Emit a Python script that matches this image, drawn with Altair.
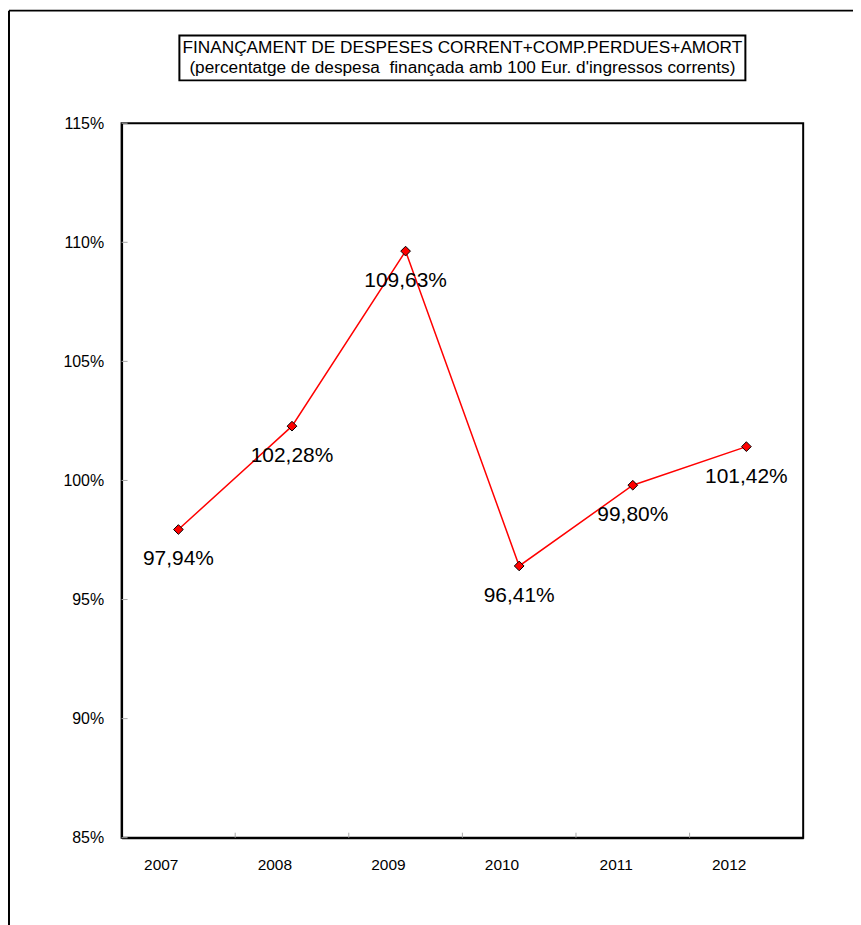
import altair as alt
import pandas as pd

years = ["2007", "2008", "2009", "2010", "2011", "2012"]
values = [97.94, 102.28, 109.63, 96.41, 99.80, 101.42]
y_ticks = [85, 90, 95, 100, 105, 110, 115]
title_lines = ["FINANÇAMENT DE DESPESES CORRENT+COMP.PERDUES+AMORT",
               "(percentatge de despesa\u00a0 finançada amb 100 Eur. d'ingressos corrents)"]

df = pd.DataFrame({
    "year": years,
    "value": values,
    "label": [f"{v:.2f}".replace(".", ",") + "%" for v in values],
})
tick_df = pd.DataFrame({"t": y_ticks})
title_df = pd.DataFrame({"line": title_lines, "row": [0, 1]})
one = pd.DataFrame({"a": [1]})

W, H = 684, 717
FONT = "Liberation Sans"

xscale = alt.Scale(type="band", paddingInner=0, paddingOuter=0, domain=years)
yscale = alt.Scale(domain=[85, 115], nice=False, zero=False)

xenc = alt.X("year:N", scale=xscale, bandPosition=0.5,
             axis=alt.Axis(title=None, labelFont=FONT, labelFontSize=15.5, labelColor="black",
                           ticks=False, domain=True, domainColor="black", domainWidth=2,
                           labelPadding=27, labelAngle=0))
yenc = alt.Y("value:Q", scale=yscale,
             axis=alt.Axis(title=None, values=y_ticks, labelExpr="datum.value + '%'",
                           labelFont=FONT, labelFontSize=16, labelColor="black",
                           ticks=False, grid=False, domain=True, domainColor="black",
                           domainWidth=2, labelPadding=18))

line = alt.Chart(df).mark_line(color="#ff0000", strokeWidth=1.5).encode(x=xenc, y=yenc)
pts = alt.Chart(df).mark_point(shape="diamond", filled=True, fill="#ff0000", stroke="black",
                               strokeWidth=1, size=95, opacity=1).encode(x=xenc, y=yenc)
labels = alt.Chart(df).mark_text(font=FONT, fontSize=21, color="black", dy=30,
                                 baseline="middle").encode(x=xenc, y=yenc, text="label:N")

xticks = alt.Chart(df).transform_filter("datum.year != '2007'").mark_rule(
    color="#aaaaaa", strokeWidth=1).encode(
    x=alt.X("year:N", scale=xscale, bandPosition=0),
    y=alt.value(H), y2=alt.value(H - 5))
yticks = alt.Chart(tick_df).mark_rule(color="#aaaaaa", strokeWidth=1).encode(
    y=alt.Y("t:Q", scale=yscale), x=alt.value(0), x2=alt.value(6))

box = alt.Chart(one).mark_rect(
    fill="white", stroke="black", strokeWidth=2).encode(
    x=alt.value(58), x2=alt.value(626), y=alt.value(-88), y2=alt.value(-43))
t1 = alt.Chart(title_df).transform_filter("datum.row == 0").mark_text(
    font=FONT, fontSize=17.3, color="black", baseline="middle").encode(
    x=alt.value(342), y=alt.value(-75), text="line:N")
t2 = alt.Chart(title_df).transform_filter("datum.row == 1").mark_text(
    font=FONT, fontSize=17.3, color="black", baseline="middle").encode(
    x=alt.value(342), y=alt.value(-55), text="line:N")

# outer frame (left and top lines)
frame_left = alt.Chart(one).mark_rule(color="black", strokeWidth=2).encode(
    x=alt.value(-113), y=alt.value(-113), y2=alt.value(H + 200))
frame_top = alt.Chart(one).mark_rule(color="black", strokeWidth=2).encode(
    x=alt.value(-113), x2=alt.value(W + 200), y=alt.value(-113))

chart = alt.layer(frame_left, frame_top, box, t1, t2, xticks, yticks, line, pts, labels).properties(
    width=W, height=H,
    padding={"left": 114, "top": 114, "right": 50, "bottom": 90},
    autosize=alt.AutoSizeParams(type="none"),
    background="white",
).configure_view(stroke="black", strokeWidth=2)

chart.save("out.html", embed_options={"renderer": "svg", "actions": False})
